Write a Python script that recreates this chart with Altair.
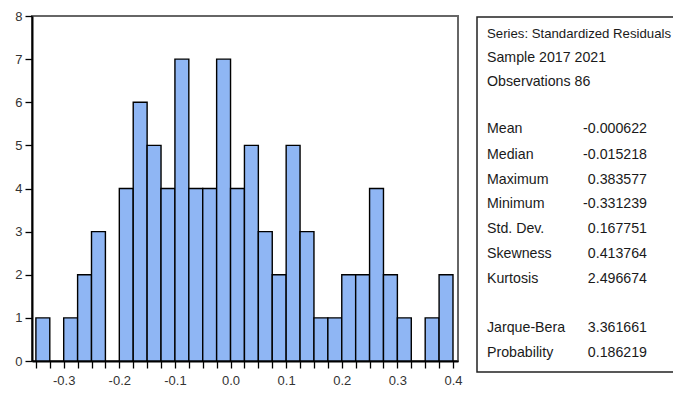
import altair as alt
import pandas as pd

# ---- data ----
BIN_LEFT = [-0.350, -0.325, -0.300, -0.275, -0.250, -0.225, -0.200, -0.175,
            -0.150, -0.125, -0.100, -0.075, -0.050, -0.025, 0.000, 0.025,
            0.050, 0.075, 0.100, 0.125, 0.150, 0.175, 0.200, 0.225,
            0.250, 0.275, 0.300, 0.325, 0.350, 0.375]
BIN_WIDTH = 0.025
COUNTS = [1, 0, 1, 2, 3, 0, 4, 6, 5, 4, 7, 4, 4, 7, 4, 5,
          3, 2, 5, 3, 1, 1, 2, 2, 4, 2, 1, 0, 1, 2]
X_TICK_LABELS = [-0.3, -0.2, -0.1, 0.0, 0.1, 0.2, 0.3, 0.4]
Y_TICKS = [0, 1, 2, 3, 4, 5, 6, 7, 8]

HEADER = ["Series: Standardized Residuals", "Sample 2017 2021", "Observations 86"]
STAT_NAMES = ["Mean", "Median", "Maximum", "Minimum", "Std. Dev.",
              "Skewness", "Kurtosis", "Jarque-Bera", "Probability"]
STAT_VALUES = ["-0.000622", "-0.015218", "0.383577", "-0.331239", "0.167751",
               "0.413764", "2.496674", "3.361661", "0.186219"]

df = pd.DataFrame({
    "left": BIN_LEFT,
    "right": [b + BIN_WIDTH for b in BIN_LEFT],
    "count": COUNTS,
})
tick_values = BIN_LEFT + [BIN_LEFT[-1] + BIN_WIDTH]

FONT = "Liberation Sans"
W, H = 426, 345
TOTAL_W, TOTAL_H = 665, 380

label_list = ",".join(str(int(round(v * 10))) for v in X_TICK_LABELS)
label_expr = (
    f"indexof([{label_list}], round(datum.value*10)) >= 0 && "
    "abs(datum.value*10 - round(datum.value*10)) < 0.001 ? "
    "replace(format(datum.value, '.1f'), '\u2212', '-') : ''"
)

bars = alt.Chart(df).transform_filter("datum.count > 0").mark_bar(
    color="#8FB6F4", stroke="#000000", strokeWidth=1.4
).encode(
    x=alt.X("left:Q",
            scale=alt.Scale(domain=[-0.357, 0.409], nice=False, zero=False),
            axis=alt.Axis(values=tick_values, labelExpr=label_expr,
                          title=None, grid=False, tickSize=7, tickWidth=1.3,
                          tickColor="#000", domainColor="#000", domainWidth=2,
                          labelFont=FONT, labelFontSize=13, labelColor="#333",
                          labelPadding=6, labelOverlap=False, labelFlush=False)),
    x2="right:Q",
    y=alt.Y("count:Q",
            scale=alt.Scale(domain=[0, 8], nice=False),
            axis=alt.Axis(values=Y_TICKS, title=None, grid=False, tickSize=7,
                          tickWidth=1.3, tickColor="#000", domainColor="#000",
                          domainWidth=2, labelFont=FONT, labelFontSize=13,
                          labelColor="#333", labelPadding=3)),
    y2=alt.datum(0),
)

layers = [bars]

# stats box frame (right side runs off the picture)
box_x0, box_y0, box_y1 = 445, 1, 356
layers.append(
    alt.Chart(alt.Data(values=[{}])).mark_rect(
        fill="white", stroke="#222", strokeWidth=1.5
    ).encode(x=alt.value(box_x0), x2=alt.value(box_x0 + 260),
             y=alt.value(box_y0), y2=alt.value(box_y1))
)

TXT = dict(font=FONT, color="#1a1a1a", baseline="middle")
label_x, value_x = 455, 615
header_y = [18, 42, 66]
stat_y = [113, 138.5, 163.5, 188, 213, 238, 263, 312, 337]
header_sizes = [13.2, 14.2, 14.2]

for t, yy, fs in zip(HEADER, header_y, header_sizes):
    layers.append(alt.Chart(alt.Data(values=[{}])).mark_text(
        text=t, align="left", fontSize=fs, **TXT
    ).encode(x=alt.value(label_x), y=alt.value(yy)))
for n, v, yy in zip(STAT_NAMES, STAT_VALUES, stat_y):
    layers.append(alt.Chart(alt.Data(values=[{}])).mark_text(
        text=n, align="left", fontSize=14.2, **TXT
    ).encode(x=alt.value(label_x), y=alt.value(yy)))
    layers.append(alt.Chart(alt.Data(values=[{}])).mark_text(
        text=v, align="right", fontSize=14.2, **TXT
    ).encode(x=alt.value(value_x), y=alt.value(yy)))

chart = alt.layer(*layers).properties(
    width=W, height=H,
    autosize=alt.AutoSizeParams(type="none"),
    padding={"left": 24, "top": 8, "right": TOTAL_W - 24 - W, "bottom": TOTAL_H - 8 - H},
    background="white",
).configure_view(stroke="#666", strokeWidth=2)

chart.save("out.html", embed_options={"renderer": "svg", "actions": False})
